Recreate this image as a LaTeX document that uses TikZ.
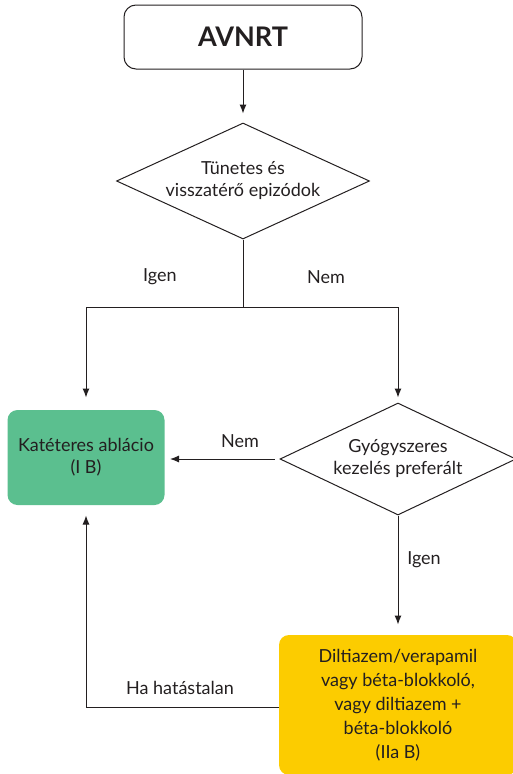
\documentclass[tikz,border=0pt]{standalone}
\usepackage{fontspec}
\setmainfont{Lato}
\usetikzlibrary{shapes.geometric,arrows.meta}
\definecolor{ink}{RGB}{35,31,32}
\definecolor{greenbox}{RGB}{91,191,143}
\definecolor{yellowbox}{RGB}{252,204,0}
\begin{document}
\begin{tikzpicture}[x=1pt,y=-1pt,
  line width=1pt, draw=ink, text=ink,
  arr/.style={-{Latex[length=9pt,width=7pt]}},
  txt/.style={font=\fontsize{18}{22}\selectfont, align=center},
  dec/.style={shape=diamond, draw, inner sep=0pt, aspect=2.2, minimum width=253pt, minimum height=116pt, txt},
  lbl/.style={font=\fontsize{18}{22}\selectfont, inner sep=0pt}
]
\useasboundingbox (0,0) rectangle (513,774);
% start
\node[draw, rounded corners=12pt, minimum width=238pt, minimum height=64pt, inner sep=0pt,
  font=\fontsize{27}{32}\bfseries\selectfont] (start) at (243,37) {AVNRT};
% decision 1
\node[dec] (d1) at (243,181) {Tünetes és\\visszatérő epizódok};
% green box
\node[draw=none, fill=greenbox, rounded corners=10pt, minimum width=157pt, minimum height=95pt, inner sep=0pt, txt] (abl) at (86,457.5) {Katéteres ablácio\\(I B)};
% decision 2
\node[dec, minimum width=236pt, minimum height=112pt] (d2) at (398,459) {Gyógyszeres\\kezelés preferált};
% yellow box
\node[draw=none, fill=yellowbox, rounded corners=10pt, minimum width=238pt, minimum height=140pt, inner sep=0pt, txt, font=\fontsize{18}{24}\selectfont] (drug) at (398,705) {Diltiazem/verapamil\\vagy béta-blokkoló,\\vagy diltiazem +\\béta-blokkoló\\(IIa B)};
% coordinates
\coordinate (split) at (243,307);
\coordinate (sl) at (86,307);
\coordinate (sr) at (398,307);
\coordinate (back) at (86,707);
% connectors
\draw[arr, shorten >=9pt] (start.south) -- (d1.north);
\draw (d1.south) -- (split);
\draw[arr, shorten >=12pt] (split) -- (sl) -- (abl.north);
\draw[arr, shorten >=5pt] (split) -- (sr) -- (d2.north);
\draw[arr, shorten <=5pt, shorten >=5pt] (d2.west) -- (d2.west -| abl.east);
\draw[arr, shorten >=10pt] (d2.south) -- (drug.north);
\draw[arr, shorten >=10pt] (drug.west |- back) -- (back) -- (abl.south);
% labels
\node[lbl] (ligen1) at (160,277) {Igen};
\node[lbl] (lnem1) at (326,277) {Nem};
\node[lbl] (lnem2) at (240,441) {Nem};
\node[lbl] (ligen2) at (424,560) {Igen};
\node[lbl] (lha) at (180,688) {Ha hatástalan};
\end{tikzpicture}
\end{document}
